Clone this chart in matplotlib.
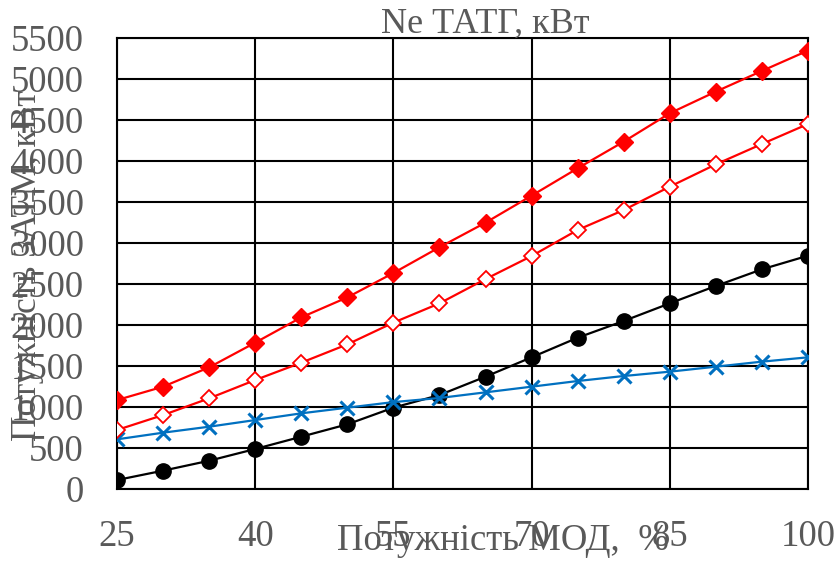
import matplotlib
matplotlib.use("Agg")
import matplotlib.pyplot as plt

plt.rcParams['font.family'] = ['Liberation Serif', 'DejaVu Serif']

# потужність МОД, %
mod_power = [25, 30, 35, 40, 45, 50, 55, 60, 65, 70, 75, 80, 85, 90, 95, 100]

# криві потужності, кВт
ne_filled = [1085, 1248, 1484, 1785, 2093, 2337, 2634, 2948,
             3248, 3577, 3911, 4236, 4582, 4846, 5098, 5346]
ne_open = [720, 902, 1106, 1329, 1541, 1764, 2029, 2264,
           2560, 2841, 3159, 3402, 3687, 3959, 4207, 4451]
zatm = [110, 224, 345, 488, 638, 789, 992, 1146,
        1370, 1606, 1845, 2049, 2264, 2476, 2679, 2845]
tatg = [606, 687, 760, 841, 923, 992, 1060, 1110,
        1179, 1248, 1317, 1378, 1431, 1492, 1553, 1606]

x_ticks = [25, 40, 55, 70, 85, 100]
y_ticks = list(range(0, 5501, 500))

TXT = '#595959'
RED = '#FF0000'
BLUE = '#0070C0'

fig = plt.figure(figsize=(8.39, 5.61), dpi=100)
ax = fig.add_axes([0.1395, 0.1283, 0.8235, 0.804])

ax.plot(mod_power, ne_filled, color=RED, lw=1.6, marker='D', ms=9,
        mfc=RED, mec=RED, zorder=4)
ax.plot(mod_power, ne_open, color=RED, lw=1.6, marker='D', ms=8.5,
        mfc='white', mec=RED, mew=1.3, zorder=4)
ax.plot(mod_power, zatm, color='black', lw=1.6, marker='o', ms=11,
        mfc='black', mec='black', zorder=3)
ax.plot(mod_power, tatg, color=BLUE, lw=1.6, marker='x', ms=10.5,
        mec=BLUE, mew=2.2, zorder=3)

ax.set_xlim(25, 100)
ax.set_ylim(0, 5500)
ax.set_xticks(x_ticks)
ax.set_yticks(y_ticks)
ax.grid(True, color='black', lw=1.5)
ax.set_axisbelow(True)
for sp in ax.spines.values():
    sp.set_color('black')
    sp.set_linewidth(1.5)
ax.tick_params(axis='both', length=0, labelsize=26.5, labelcolor=TXT)
ax.tick_params(axis='y', pad=24)
ax.tick_params(axis='x', pad=22)

fig.text(0.578, 0.942, 'Ne ТАТГ, кВт', ha='center', va='baseline',
         fontsize=26, color=TXT)
fig.text(0.600, 0.020, 'Потужність МОД,  %', ha='center', va='baseline',
         fontsize=26.5, color=TXT)
fig.text(0.033, 0.527, 'Потужність ЗАТМ, кВт', ha='center', va='center',
         rotation=90, fontsize=25.5, color=TXT)

fig.savefig('out.png', dpi=100)
